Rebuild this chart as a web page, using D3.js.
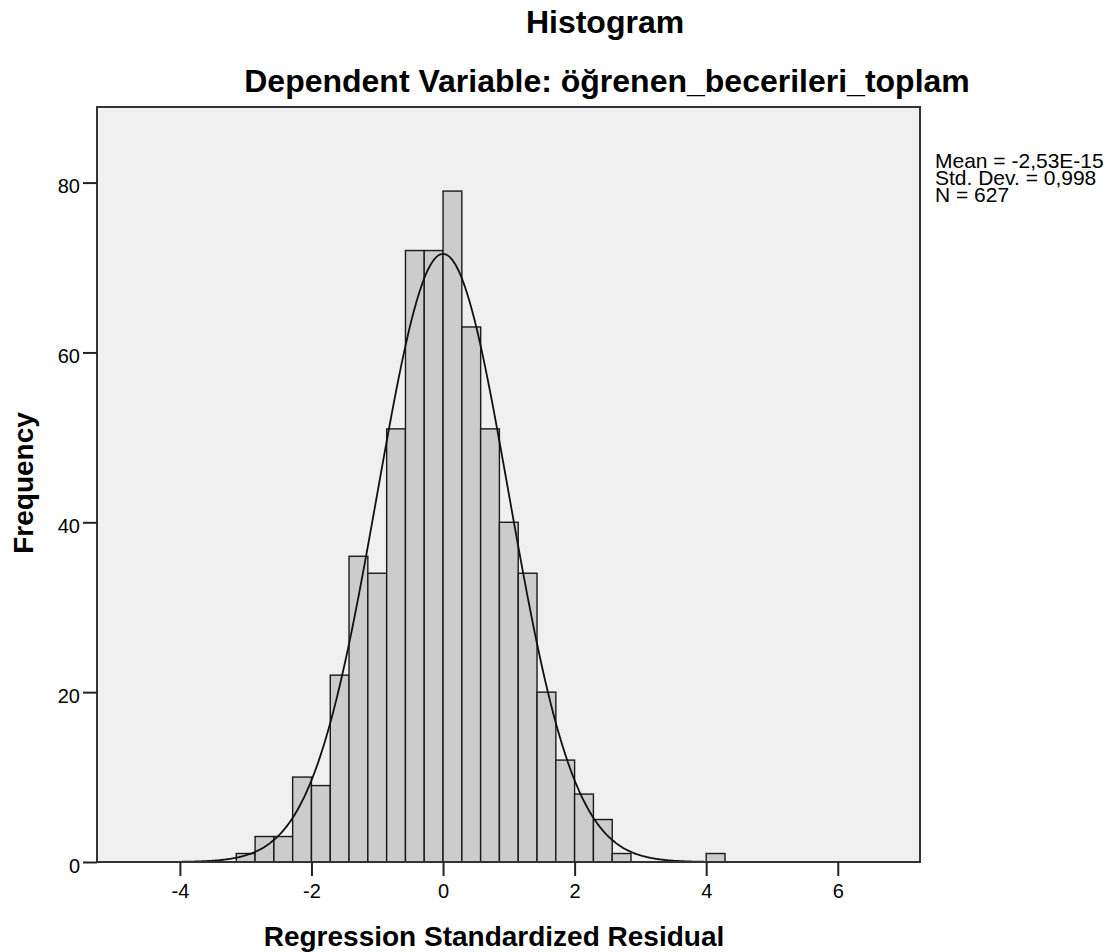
<!DOCTYPE html>
<html>
<head>
<meta charset="utf-8">
<script src="https://cdn.jsdelivr.net/npm/d3@7"></script>
<style>
  body { margin: 0; background: #fff; }
  svg text { font-family: "Liberation Sans", Arial, sans-serif; fill: #000; }
</style>
</head>
<body>
<svg width="1112" height="952"></svg>
<script>
// bins (lower edge of each bar) and their frequencies
const binLow = [-3.143, -2.857, -2.571, -2.286, -2.000, -1.714, -1.429, -1.143, -0.857, -0.571, -0.286,
                0.000, 0.286, 0.571, 0.857, 1.143, 1.429, 1.714, 2.000, 2.286, 2.571, 4.000];
const counts = [1, 3, 3, 10, 9, 22, 36, 34, 51, 72, 72, 79, 63, 51, 40, 34, 20, 12, 8, 5, 1, 1];
const binWidth = 0.2857;

const xTicks = [-4, -2, 0, 2, 4, 6];
const yTicks = [0, 20, 40, 60, 80];

const stats = { mean: -2.53e-15, sd: 0.998, n: 627 };
const legendLines = ["Mean = -2,53E-15", "Std. Dev. = 0,998", "N = 627"];

const svg = d3.select("svg"),
      plot = { left: 97, right: 920, top: 107, bottom: 862 };

const x = d3.scaleLinear().domain([-5.26, 7.25]).range([plot.left, plot.right]);
const y = d3.scaleLinear().domain([0, 88.9]).range([plot.bottom, plot.top]);

// plot background
svg.append("rect")
    .attr("x", plot.left).attr("y", plot.top)
    .attr("width", plot.right - plot.left).attr("height", plot.bottom - plot.top)
    .attr("fill", "#f0f0f0");

const bars = binLow.map((b, i) => ({ x0: b, x1: b + binWidth, count: counts[i] }));

svg.append("g").selectAll("rect")
    .data(bars)
    .enter()
    .append("rect")
    .attr("x", d => x(d.x0))
    .attr("y", d => y(d.count))
    .attr("width", d => x(d.x1) - x(d.x0))
    .attr("height", d => y(0) - y(d.count))
    .attr("fill", "#cccccc")
    .attr("stroke", "#1a1a1a")
    .attr("stroke-width", 1.4);

// normal curve from the reported mean / sd / N
const norm = v => stats.n * binWidth / (stats.sd * Math.sqrt(2 * Math.PI)) *
    Math.exp(-0.5 * Math.pow((v - stats.mean) / stats.sd, 2));

const line = d3.line().x(d => x(d)).y(d => y(norm(d))).curve(d3.curveBasis);
svg.append("path")
    .datum(d3.range(-5.26, 7.25, 0.02))
    .attr("d", line)
    .attr("fill", "none")
    .attr("stroke", "#111")
    .attr("stroke-width", 1.8);

// frame
svg.append("rect")
    .attr("x", plot.left).attr("y", plot.top)
    .attr("width", plot.right - plot.left).attr("height", plot.bottom - plot.top)
    .attr("fill", "none")
    .attr("stroke", "#333")
    .attr("stroke-width", 2);

// axes
const xAxis = svg.append("g")
    .attr("transform", `translate(0,${plot.bottom})`)
    .call(d3.axisBottom(x).tickValues(xTicks).tickSize(14).tickFormat(String));
const yAxis = svg.append("g")
    .attr("transform", `translate(${plot.left},0)`)
    .call(d3.axisLeft(y).tickValues(yTicks).tickSize(14).tickFormat(String));

[xAxis, yAxis].forEach(a => {
    a.select(".domain").remove();
    a.selectAll("line").attr("stroke", "#222").attr("stroke-width", 2);
    a.selectAll("text")
        .style("font-family", "'Liberation Sans', Arial, sans-serif")
        .style("font-size", "20px")
        .attr("fill", "#000");
});
xAxis.selectAll("text").attr("y", 22).attr("dy", "0.71em");
yAxis.selectAll("text").attr("x", -17).attr("dy", "0.5em");

// titles
svg.append("text")
    .attr("x", 605).attr("y", 33)
    .attr("text-anchor", "middle")
    .style("font-size", "32px").style("font-weight", "bold")
    .text("Histogram");

svg.append("text")
    .attr("x", 607).attr("y", 92)
    .attr("text-anchor", "middle")
    .style("font-size", "32px").style("font-weight", "bold")
    .text("Dependent Variable: öğrenen_becerileri_toplam");

svg.append("text")
    .attr("x", 494).attr("y", 946)
    .attr("text-anchor", "middle")
    .style("font-size", "28px").style("font-weight", "bold")
    .text("Regression Standardized Residual");

svg.append("text")
    .attr("transform", "translate(33,483) rotate(-90)")
    .attr("text-anchor", "middle")
    .style("font-size", "28px").style("font-weight", "bold")
    .text("Frequency");

// stats legend
svg.append("g").selectAll("text")
    .data(legendLines)
    .enter()
    .append("text")
    .attr("x", 935)
    .attr("y", (d, i) => 168 + i * 17)
    .style("font-size", "21px")
    .text(d => d);
</script>
</body>
</html>
